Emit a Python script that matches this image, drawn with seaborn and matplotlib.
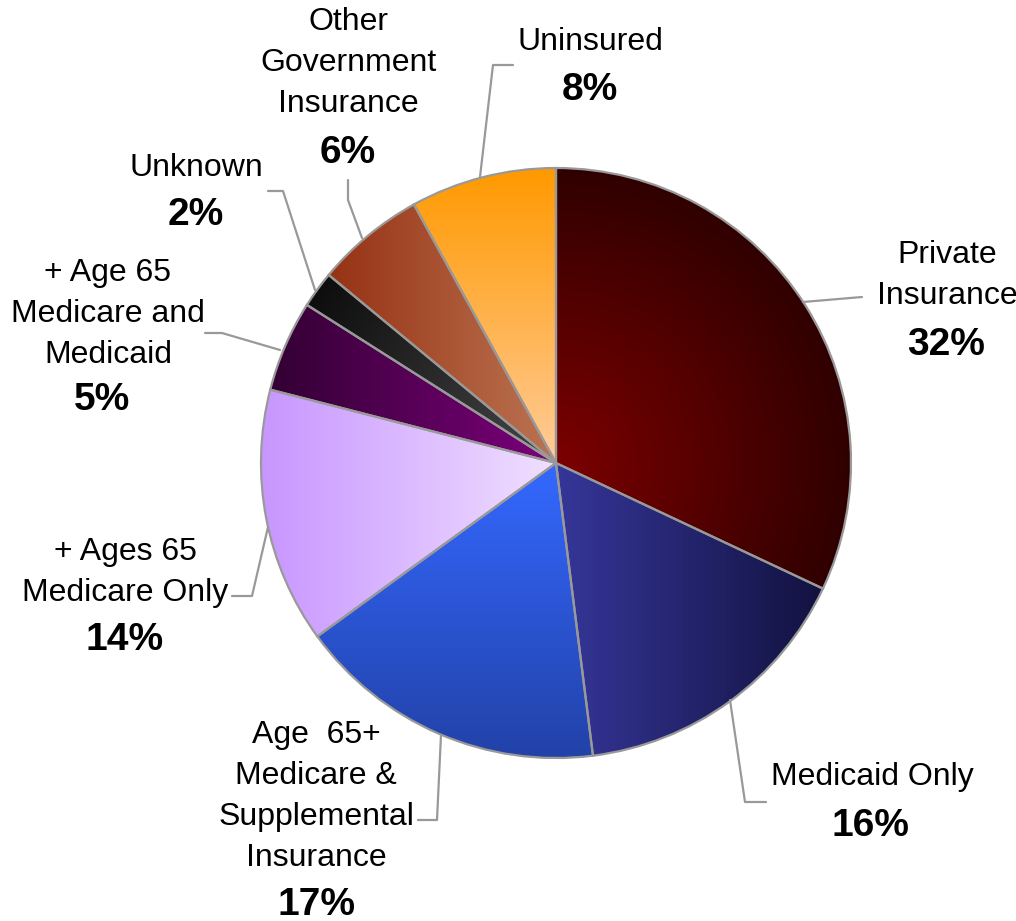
import numpy as np
import seaborn as sns
import matplotlib.pyplot as plt
from matplotlib.colors import LinearSegmentedColormap, to_rgb

sns.set_theme(style="white")
plt.rcParams['font.family'] = ['Liberation Sans', 'DejaVu Sans']

# data
categories = ["Private\nInsurance", "Medicaid Only",
              "Age  65+\nMedicare &\nSupplemental\nInsurance",
              "+ Ages 65\nMedicare Only", "+ Age 65\nMedicare and\nMedicaid",
              "Unknown", "Other\nGovernment\nInsurance", "Uninsured"]
shares = [32, 16, 17, 14, 5, 2, 6, 8]

# gradient style per slice: (kind, start colour, end colour)
grads = [("radial", "#7c0000", "#300000"),
         ("h", "#36369a", "#121240"),
         ("v", "#3468ff", "#2242a8"),
         ("h", "#c896ff", "#f0e0ff"),
         ("h", "#330033", "#7c007c"),
         ("radial", "#474747", "#0e0e0e"),
         ("h", "#963214", "#bb7452"),
         ("v", "#ff9900", "#ffcc99")]

# label layout in pixel coords: (x, y of first line, percent x, percent y)
label_pos = [(947, 255, 946, 345), (872, 777, 870, 826), (316, 735, 316, 905),
             (125, 552, 125, 640), (108, 273, 102, 400), (196, 168, 196, 215),
             (348, 22, 348, 153), (590, 42, 590, 90)]
leaders = [[(803, 302), (862, 297)],
           [(730, 700), (745, 802), (766, 802)],
           [(441, 735), (437, 820), (418, 820)],
           [(268, 527), (252, 596), (232, 596)],
           [(280, 350), (222, 333), (205, 333)],
           [(315, 290), (283, 191), (268, 191)],
           [(362, 238), (348, 200), (348, 180)],
           [(480, 177), (493, 65), (513, 65)]]

W, H = 1016, 921
fig = plt.figure(figsize=(W / 100, H / 100), dpi=100)
ax = fig.add_axes([0, 0, 1, 1])

cx, cy, R = 556, H - 463, 295
wedges, _ = ax.pie(shares, startangle=90, counterclock=False, center=(cx, cy),
                   radius=R, frame=True,
                   wedgeprops=dict(facecolor='none', edgecolor='#999999', linewidth=1.6))
ax.set_xlim(0, W)
ax.set_ylim(0, H)
ax.set_aspect('equal')
ax.axis('off')

n = 400
xs = np.linspace(cx - R, cx + R, n)
ys = np.linspace(cy - R, cy + R, n)
XX, YY = np.meshgrid(xs, ys)
for w, (kind, c0, c1) in zip(wedges, grads):
    th = np.radians(np.linspace(w.theta1, w.theta2, 60))
    px = np.concatenate([[cx], cx + R * np.cos(th)])
    py = np.concatenate([[cy], cy + R * np.sin(th)])
    if kind == "radial":
        t = np.hypot(XX - cx, YY - cy) / R
    elif kind == "h":
        t = (XX - px.min()) / (px.max() - px.min())
    else:
        t = (py.max() - YY) / (py.max() - py.min())
    t = np.clip(t, 0, 1)
    cmap = LinearSegmentedColormap.from_list("g", [to_rgb(c0), to_rgb(c1)])
    im = ax.imshow(cmap(t), extent=[cx - R, cx + R, cy - R, cy + R],
                   origin='lower', zorder=1, interpolation='bilinear')
    im.set_clip_path(w)
    w.set_zorder(2)

for lab, sh, (lx, ly, px_, py_), ld in zip(categories, shares, label_pos, leaders):
    for i, line in enumerate(lab.split("\n")):
        ax.text(lx, H - (ly + 41 * i), line, ha='center', va='center',
                fontsize=23, color='black')
    ax.text(px_, H - py_, f"{sh}%", ha='center', va='center',
            fontsize=28, fontweight='bold', color='black')
    lx_, ly_ = zip(*ld)
    ax.plot(lx_, [H - v for v in ly_], color='#999999', linewidth=1.6, zorder=3)

plt.savefig("out.png", dpi=100)
